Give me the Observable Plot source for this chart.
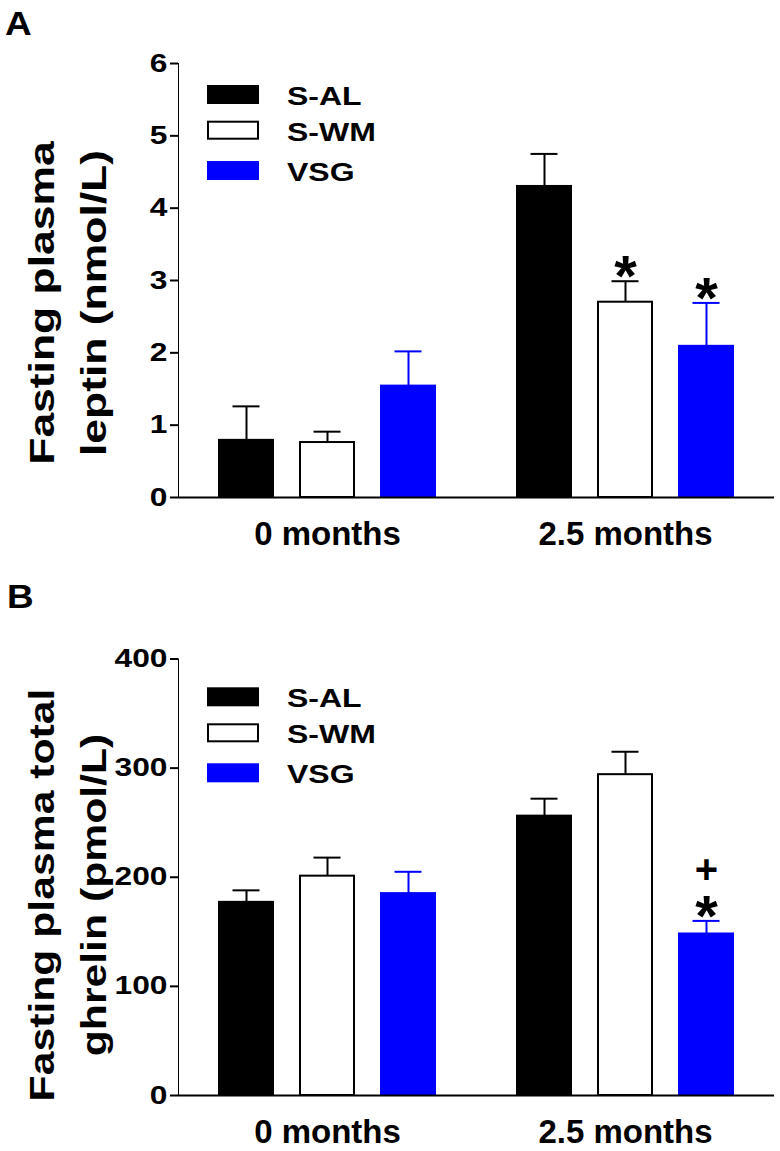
<!DOCTYPE html>
<html>
<head>
<meta charset="utf-8">
<script src="https://cdn.jsdelivr.net/npm/d3@7"></script>
<script src="https://cdn.jsdelivr.net/npm/@observablehq/plot@0.6"></script>
<style>
  html, body { margin: 0; padding: 0; background: #fff; }
  #page { position: relative; width: 780px; height: 1151px; overflow: hidden; background: #fff; }
  .panel { position: absolute; left: 0; }
  #overlay { position: absolute; left: 0; top: 0; pointer-events: none; }
  .panel svg g[aria-label^="y-axis"] { stroke-width: 2px; }
  .panel svg g[aria-label^="fx-axis"] { font-size: 33px; }
</style>
</head>
<body>
<div id="page">
  <div class="panel" id="panelA" style="top:0px"></div>
  <div class="panel" id="panelB" style="top:575px"></div>
  <svg id="overlay" width="780" height="1151"></svg>
</div>
<script>
// ---------------- data ----------------
const months = ["0 months", "2.5 months"];
const groups = ["S-AL", "S-WM", "VSG"];

// Panel A: fasting plasma leptin (nmol/L), mean and SEM
const leptinMean0  = [0.79, 0.76, 1.54];
const leptinSem0   = [0.47, 0.15, 0.48];
const leptinMean25 = [4.30, 2.70, 2.09];
const leptinSem25  = [0.45, 0.29, 0.60];
const leptinStar25 = ["", "*", "*"];
const leptinTicks  = [0, 1, 2, 3, 4, 5, 6];

// Panel B: fasting plasma total ghrelin (pmol/L), mean and SEM
const ghrelinMean0  = [177, 201, 185];
const ghrelinSem0   = [11, 17, 20];
const ghrelinMean25 = [256, 294, 148];
const ghrelinSem25  = [16, 21, 12];
const ghrelinStar25 = ["", "", "*"];
const ghrelinPlus25 = ["", "", "+"];
const ghrelinTicks  = [0, 100, 200, 300, 400];

// ---------------- styles ----------------
const FONT = "'Liberation Sans', Arial, Helvetica, sans-serif";
const fillOf   = {"S-AL": "#000000", "S-WM": "#ffffff", "VSG": "#0000ff"};
const strokeOf = {"S-AL": "#000000", "S-WM": "#000000", "VSG": "#0000ff"};
const STRETCH = 1.27;

function rows(mean0, sem0, mean25, sem25, marks25) {
  const out = [];
  groups.forEach((g, i) => out.push({month: months[0], group: g, mean: mean0[i], sem: sem0[i], mark: ""}));
  groups.forEach((g, i) => out.push({month: months[1], group: g, mean: mean25[i], sem: sem25[i], mark: marks25 ? marks25[i] : ""}));
  return out;
}

function panel(data, extraText, yDomain, yTicks, height, marginTop, marginBottom) {
  const top = d => d.mean + d.sem;
  const marks = [
    Plot.ruleX(data, {fx: "month", x: "group", y1: "mean", y2: top, stroke: d => strokeOf[d.group], strokeWidth: 2}),
    Plot.barY(data, {fx: "month", x: "group", y: "mean", fill: d => fillOf[d.group], stroke: d => strokeOf[d.group], strokeWidth: 2, insetLeft: 1, insetRight: 1}),
    Plot.tickY(data, {fx: "month", x: "group", y: top, stroke: d => strokeOf[d.group], strokeWidth: 2, insetLeft: 14.5, insetRight: 14.5}),
    Plot.ruleY([0], {strokeWidth: 2}),
    ...extraText.map(t => Plot.text(data.filter(d => t.key(d)), {fx: "month", x: "group", y: top, text: t.key, fontSize: t.size, fontWeight: "bold", lineAnchor: "bottom", dy: t.dy, fill: "black"}))
  ];
  return Plot.plot({
    width: 780, height, marginLeft: 177, marginRight: 6, marginTop, marginBottom,
    style: {fontFamily: FONT, fontWeight: "bold", fontSize: "25px", color: "black", background: "transparent", overflow: "visible"},
    fx: {domain: months, padding: 0, axis: "bottom", label: null, tickSize: 0, tickPadding: 24},
    x: {domain: groups, paddingInner: 0.311, paddingOuter: 0.49, axis: null},
    y: {domain: yDomain, ticks: yTicks, tickSize: 8, tickPadding: 3, line: true, label: null, tickFormat: d => String(d)},
    color: {type: "identity"},
    marks
  });
}

function stretchTicks(svg) {
  svg.querySelectorAll('g[aria-label^="y-axis tick label"] text').forEach(t => {
    const tr = t.getAttribute("transform");
    if (tr) t.setAttribute("transform", tr + ` scale(${STRETCH},1)`);
    else {
      const x = +t.getAttribute("x") || 0, y = +t.getAttribute("y") || 0;
      t.removeAttribute("x"); t.removeAttribute("y");
      t.setAttribute("transform", `translate(${x},${y}) scale(${STRETCH},1)`);
    }
  });
}

const dataA = rows(leptinMean0, leptinSem0, leptinMean25, leptinSem25, leptinStar25);
const svgA = panel(dataA, [{key: d => d.mark, size: 58, dy: 15}], [0, 6], leptinTicks, 575, 63, 78);
stretchTicks(svgA);
document.getElementById("panelA").appendChild(svgA);

const dataB = rows(ghrelinMean0, ghrelinSem0, ghrelinMean25, ghrelinSem25, ghrelinStar25)
  .map((d, i) => ({...d, plus: i >= 3 ? ghrelinPlus25[i - 3] : ""}));
const svgB = panel(dataB, [
  {key: d => d.mark, size: 58, dy: 15},
  {key: d => d.plus, size: 40, dy: -38}
], [0, 400], ghrelinTicks, 576, 83.5, 56);
stretchTicks(svgB);
document.getElementById("panelB").appendChild(svgB);

// ---------------- overlay: panel letters, y titles, legends ----------------
const ov = d3.select("#overlay").style("font-family", FONT).style("font-weight", "bold");

function panelLetter(txt, x, y) {
  ov.append("text").attr("transform", `translate(${x},${y}) scale(1.12,1)`).attr("font-size", 33).text(txt);
}
function yTitle(lines, xs, cy, stretch) {
  lines.forEach((l, i) => {
    ov.append("text")
      .attr("transform", `translate(${xs[i]},${cy}) rotate(-90) scale(${stretch},1)`)
      .attr("text-anchor", "middle").attr("font-size", 35).text(l);
  });
}
function legend(tops) {
  groups.forEach((g, i) => {
    const y = tops[i];
    if (g === "S-WM") {
      ov.append("rect").attr("x", 208).attr("y", y + 1).attr("width", 50).attr("height", 17)
        .attr("fill", "#fff").attr("stroke", "#000").attr("stroke-width", 2);
    } else {
      ov.append("rect").attr("x", 207).attr("y", y).attr("width", 52).attr("height", 19).attr("fill", fillOf[g]);
    }
    ov.append("text").attr("transform", `translate(287,${y + 20}) scale(1.28,1)`).attr("font-size", 25).text(g);
  });
}

panelLetter("A", 5, 35);
panelLetter("B", 7, 608);
yTitle(["Fasting plasma", "leptin (nmol/L)"], [53.5, 105.5], 303, STRETCH);
yTitle(["Fasting plasma total", "ghrelin (pmol/L)"], [53.5, 105.5], 895, 1.22);
legend([85, 120.7, 161]);
legend([687.3, 723.3, 763.3]);
</script>
</body>
</html>
